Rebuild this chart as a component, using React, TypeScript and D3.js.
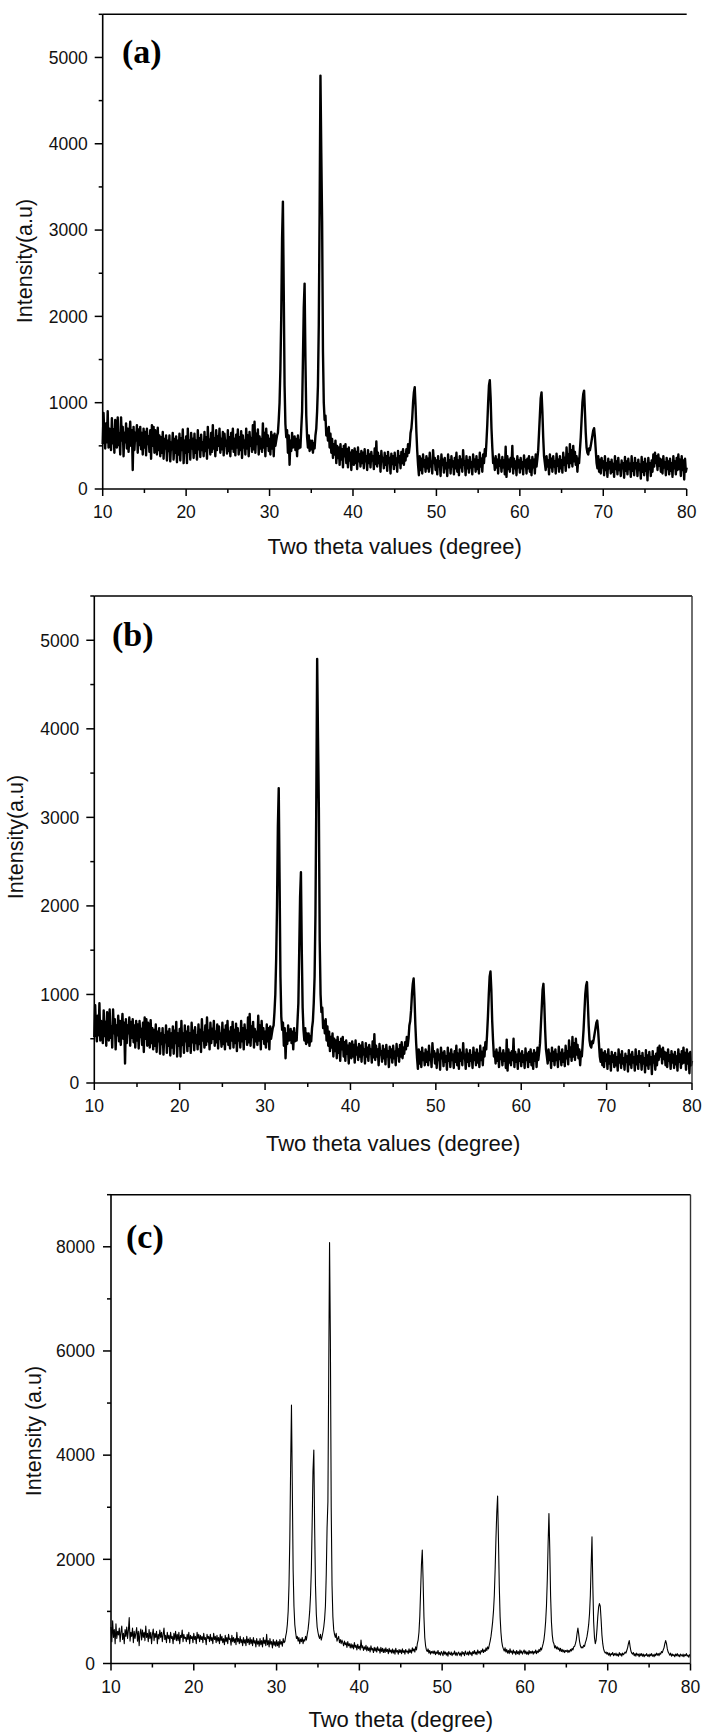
import React from "react";
import * as d3 from "d3";

// Measurement grid (degrees 2θ)
const THETA_START = 10;
const THETA_STEP = 0.1;

// Pattern shown in panels (a) and (b), one value per 0.1°, 10.0 … 80.0
const intensityAB: number[] = [
  520, 880, 610, 470, 760, 540, 900, 480, 700, 560,
  450, 820, 530, 690, 420, 800, 600, 480, 830, 510,
  640, 400, 830, 560, 720, 380, 650, 540, 760, 470,
  700, 430, 620, 780, 500, 680, 220, 720, 450, 650,
  560, 740, 420, 690, 510, 720, 460, 650, 400, 700,
  480, 660, 390, 700, 520, 610, 430, 680, 350, 740,
  500, 720, 420, 680, 560, 400, 710, 450, 620, 380,
  600, 420, 660, 350, 580, 470, 620, 330, 560, 440,
  620, 320, 540, 460, 650, 340, 580, 420, 610, 310,
  560, 400, 640, 330, 590, 450, 690, 300, 560, 420,
  610, 300, 700, 430, 560, 340, 650, 470, 580, 360,
  640, 420, 560, 340, 680, 460, 590, 370, 630, 450,
  540, 380, 660, 440, 600, 350, 720, 480, 570, 400,
  650, 430, 740, 470, 590, 380, 680, 450, 610, 500,
  700, 420, 580, 460, 660, 390, 640, 500, 560, 410,
  680, 440, 600, 380, 650, 470, 700, 430, 580, 390,
  630, 480, 690, 400, 600, 450, 670, 360, 620, 480,
  560, 400, 700, 470, 620, 380, 660, 500, 590, 430,
  740, 460, 780, 420, 640, 520, 690, 400, 610, 470,
  580, 430, 760, 480, 650, 380, 700, 500, 620, 440,
  580, 400, 660, 470, 620, 380, 640, 500, 560, 620,
  650, 800, 1000, 1400, 2000, 2900, 3330, 2300, 1200, 750,
  600, 680, 420, 620, 280, 560, 440, 650, 480, 560,
  610, 450, 580, 380, 620, 470, 560, 480, 700, 900,
  1500, 2100, 2380, 1500, 850, 600, 480, 620, 440, 560,
  460, 560, 420, 530, 470, 620, 700, 900, 1200, 1900,
  3200, 4790, 3900, 3100, 1600, 1000, 800, 850, 620, 700,
  560, 720, 480, 640, 420, 580, 360, 520, 400, 560,
  300, 500, 360, 480, 280, 520, 340, 460, 250, 500,
  380, 520, 300, 460, 250, 480, 330, 420, 220, 450,
  350, 280, 470, 300, 430, 230, 480, 320, 400, 260,
  440, 300, 420, 240, 460, 320, 380, 220, 450, 300,
  400, 250, 430, 330, 380, 230, 470, 290, 550, 260,
  420, 300, 380, 200, 440, 320, 360, 240, 420, 280,
  380, 210, 430, 300, 360, 180, 410, 290, 380, 230,
  420, 280, 350, 200, 440, 310, 380, 240, 430, 300,
  460, 280, 400, 330, 460, 380, 520, 420, 500, 650,
  700, 820, 1000, 1120, 1180, 960, 660, 440, 280, 160,
  380, 220, 350, 180, 400, 260, 330, 200, 380, 240,
  350, 200, 420, 260, 320, 180, 450, 300, 360, 220,
  330, 170, 380, 260, 320, 150, 400, 280, 340, 190,
  360, 240, 300, 150, 400, 250, 330, 180, 380, 260,
  320, 170, 360, 240, 420, 200, 330, 160, 380, 250,
  340, 200, 450, 280, 320, 160, 380, 240, 330, 190,
  370, 250, 310, 170, 400, 260, 340, 200, 380, 230,
  330, 180, 420, 260, 350, 200, 400, 300, 460, 380,
  550, 750, 1000, 1200, 1260, 1050, 700, 480, 300, 350,
  220, 380, 250, 340, 180, 400, 270, 330, 200, 370,
  250, 330, 170, 490, 140, 380, 230, 340, 200, 360,
  260, 500, 180, 350, 240, 320, 160, 380, 250, 330,
  190, 360, 240, 310, 170, 390, 260, 330, 180, 350,
  240, 380, 200, 330, 160, 370, 250, 340, 180, 400,
  260, 350, 450, 650, 850, 1050, 1120, 900, 600, 380,
  300, 220, 380, 260, 330, 170, 400, 250, 350, 200,
  380, 260, 320, 180, 410, 270, 340, 200, 380, 240,
  330, 190, 420, 280, 360, 210, 480, 300, 400, 250,
  520, 300, 450, 260, 500, 320, 430, 280, 380, 200,
  350, 300, 450, 600, 800, 1000, 1100, 1140, 900, 650,
  480, 420, 400, 470, 450, 500, 560, 620, 680, 705,
  600, 450, 300, 240, 380, 200, 340, 180, 360, 250,
  320, 160, 380, 220, 300, 140, 350, 240, 310, 180,
  340, 200, 290, 140, 380, 230, 320, 170, 360, 220,
  280, 150, 330, 240, 300, 130, 370, 210, 320, 170,
  350, 230, 290, 140, 380, 210, 300, 160, 360, 240,
  300, 150, 340, 220, 280, 120, 370, 200, 310, 160,
  350, 210, 290, 100, 360, 230, 300, 150, 330, 200,
  400, 260, 420, 300, 380, 220, 400, 270, 350, 200,
  340, 180, 380, 250, 310, 160, 360, 230, 320, 170,
  350, 210, 300, 140, 380, 240, 320, 170, 360, 220,
  400, 230, 340, 150, 380, 220, 330, 110, 350, 200,
  250,
];

// Pattern shown in panel (c), one value per 0.1°, 10.0 … 80.0
const intensityC: number[] = [
  700, 420, 820, 500, 650, 380, 760, 480, 620, 550,
  680, 420, 600, 720, 460, 580, 380, 650, 520, 700,
  480, 640, 880, 430, 600, 520, 680, 400, 620, 480,
  580, 690, 430, 620, 340, 580, 660, 450, 640, 500,
  600, 440, 720, 500, 580, 420, 650, 480, 600, 380,
  560, 660, 440, 580, 500, 620, 380, 560, 470, 640,
  500, 600, 420, 560, 680, 460, 540, 400, 600, 480,
  540, 400, 600, 480, 520, 380, 580, 460, 620, 440,
  560, 440, 600, 380, 540, 500, 640, 420, 560, 480,
  500, 420, 560, 460, 600, 380, 540, 480, 520, 400,
  580, 460, 520, 380, 600, 480, 560, 420, 540, 460,
  520, 400, 580, 460, 500, 360, 560, 480, 520, 420,
  560, 440, 500, 380, 580, 460, 520, 400, 540, 430,
  500, 380, 560, 440, 520, 400, 480, 360, 540, 420,
  500, 380, 560, 460, 480, 350, 540, 420, 500, 400,
  480, 360, 600, 420, 480, 380, 520, 400, 460, 340,
  500, 390, 460, 340, 520, 400, 470, 360, 500, 380,
  460, 340, 500, 390, 440, 320, 480, 370, 430, 330,
  480, 360, 440, 320, 500, 380, 450, 340, 560, 360,
  440, 320, 480, 370, 420, 300, 460, 350, 420, 330,
  450, 340, 420, 310, 460, 370, 420, 330, 480, 400,
  420, 520, 600, 750, 1000, 1500, 2400, 3800, 4960, 3400,
  1800, 1100, 750, 600, 480, 520, 430, 500, 380, 470,
  420, 500, 380, 460, 430, 520, 450, 560, 650, 800,
  1000, 1300, 1800, 2700, 3700, 4100, 2600, 1500, 950, 700,
  600, 520, 480, 560, 450, 520, 600, 700, 850, 1100,
  1700, 2600, 3100, 5600, 8080, 6200, 3000, 1500, 900, 650,
  560, 500, 580, 430, 480, 520, 400, 460, 380, 450,
  400, 340, 430, 360, 400, 310, 420, 340, 380, 300,
  380, 300, 360, 280, 400, 310, 350, 260, 370, 290,
  330, 260, 450, 300, 340, 250, 320, 270, 350, 240,
  320, 250, 300, 220, 340, 260, 290, 210, 310, 240,
  300, 220, 320, 250, 280, 200, 310, 230, 290, 210,
  280, 210, 300, 230, 270, 190, 290, 220, 260, 200,
  280, 200, 260, 180, 290, 220, 250, 180, 270, 210,
  260, 190, 280, 210, 250, 180, 270, 220, 240, 190,
  280, 210, 260, 200, 300, 240, 280, 220, 320, 260,
  380, 450, 600, 900, 1400, 1900, 2180, 1600, 900, 500,
  340, 260, 230, 280, 200, 250, 180, 230, 200, 240,
  190, 240, 170, 220, 190, 250, 170, 210, 160, 230,
  200, 150, 240, 180, 220, 160, 210, 140, 230, 190,
  170, 220, 150, 200, 180, 240, 160, 210, 150, 200,
  220, 160, 200, 140, 230, 180, 210, 150, 240, 190,
  170, 220, 160, 240, 180, 210, 150, 230, 190, 250,
  180, 220, 170, 260, 200, 230, 180, 250, 220, 280,
  210, 260, 230, 300, 250, 320, 280, 360, 430, 520,
  650, 800, 1000, 1300, 1800, 2400, 2900, 3215, 2400, 1500,
  900, 600, 420, 330, 280, 240, 300, 220, 270, 200,
  250, 190, 280, 210, 240, 180, 260, 200, 230, 170,
  250, 190, 230, 170, 260, 200, 240, 180, 220, 260,
  190, 240, 180, 220, 170, 250, 190, 230, 200, 240,
  180, 230, 200, 260, 190, 240, 210, 270, 230, 300,
  260, 320, 380, 460, 600, 800, 1100, 1600, 2300, 2880,
  2200, 1300, 800, 550, 420, 380, 300, 340, 280, 320,
  270, 300, 240, 290, 230, 270, 220, 260, 210, 250,
  230, 260, 210, 250, 220, 270, 240, 290, 260, 320,
  330, 380, 450, 580, 680, 560, 420, 340, 300, 320,
  300, 350, 330, 400, 450, 520, 620, 750, 950, 1300,
  1900, 2430, 1500, 800, 500, 380, 450, 650, 900, 1080,
  1150, 1100, 850, 550, 380, 280, 230, 200, 220, 180,
  210, 160, 200, 140, 190, 170, 210, 150, 190, 160,
  200, 150, 180, 140, 210, 160, 190, 140, 200, 170,
  190, 220, 200, 250, 300, 380, 440, 330, 240, 200,
  180, 210, 150, 190, 140, 200, 160, 180, 130, 190,
  150, 190, 140, 180, 130, 170, 150, 190, 140, 170,
  130, 180, 150, 190, 140, 170, 130, 180, 150, 200,
  160, 190, 150, 200, 180, 230, 210, 260, 300, 380,
  440, 380, 280, 220, 190, 160, 200, 140, 180, 150,
  170, 130, 180, 150, 190, 140, 170, 130, 180, 160,
  140, 180, 130, 170, 150, 190, 140, 160, 120, 170,
  150,
];

const xMajorTicks = [10, 20, 30, 40, 50, 60, 70, 80];
const xMinorTicks = [15, 25, 35, 45, 55, 65, 75];
const yMajorAB = [0, 1000, 2000, 3000, 4000, 5000];
const yMinorAB = [500, 1500, 2500, 3500, 4500, 5500];
const yMajorC = [0, 2000, 4000, 6000, 8000];
const yMinorC = [1000, 3000, 5000, 7000, 9000];

type PanelProps = {
  data: number[];
  left: number;
  right: number;
  top: number;
  bottom: number;
  yMax: number;
  yMajor: number[];
  yMinor: number[];
  lineWidth: number;
  tag: string;
  tagX: number;
  tagY: number;
  xTitle: string;
  xTitleY: number;
  yTitle: string;
  yTitleX: number;
  yTitleY: number;
  yLabelGap: number;
  box: boolean;
};

const SANS = "'Liberation Sans', Arial, sans-serif";
const SERIF = "'Liberation Serif', 'Times New Roman', serif";

function Panel(p: PanelProps) {
  const x = d3.scaleLinear().domain([10, 80]).range([p.left, p.right]);
  const y = d3.scaleLinear().domain([0, p.yMax]).range([p.bottom, p.top]);
  const line = d3
    .line<number>()
    .x((_, i) => x(THETA_START + i * THETA_STEP))
    .y((v) => y(v));
  const ink = "#000";
  return (
    <g>
      <path d={line(p.data) || ""} fill="none" stroke={ink} strokeWidth={p.lineWidth} strokeLinejoin="round" />
      {/* axes */}
      <line x1={p.left} x2={p.left} y1={p.top} y2={p.bottom} stroke={ink} strokeWidth={1.6} />
      <line x1={p.left} x2={p.right} y1={p.bottom} y2={p.bottom} stroke={ink} strokeWidth={1.6} />
      <line x1={p.left} x2={p.right} y1={p.top} y2={p.top} stroke={ink} strokeWidth={1.4} />
      {p.box && <line x1={p.right} x2={p.right} y1={p.top} y2={p.bottom} stroke="#333" strokeWidth={1.4} />}
      {xMajorTicks.map((t) => (
        <g key={"xm" + t}>
          <line x1={x(t)} x2={x(t)} y1={p.bottom} y2={p.bottom + 7} stroke={ink} strokeWidth={1.5} />
          <text x={x(t)} y={p.bottom + 29} textAnchor="middle" fontFamily={SANS} fontSize={17.5} fill="#111">
            {t}
          </text>
        </g>
      ))}
      {xMinorTicks.map((t) => (
        <line key={"xn" + t} x1={x(t)} x2={x(t)} y1={p.bottom} y2={p.bottom + 4} stroke={ink} strokeWidth={1.5} />
      ))}
      {p.yMajor.map((t) => (
        <g key={"ym" + t}>
          <line x1={p.left - 8} x2={p.left} y1={y(t)} y2={y(t)} stroke={ink} strokeWidth={1.5} />
          <text x={p.left - p.yLabelGap} y={y(t) + 6.3} textAnchor="end" fontFamily={SANS} fontSize={17.5} fill="#111">
            {t}
          </text>
        </g>
      ))}
      {p.yMinor.map((t) => (
        <line key={"yn" + t} x1={p.left - 4} x2={p.left} y1={y(t)} y2={y(t)} stroke={ink} strokeWidth={1.5} />
      ))}
      <text x={p.tagX} y={p.tagY} fontFamily={SERIF} fontWeight="bold" fontSize={34} fill={ink}>
        {p.tag}
      </text>
      <text x={(p.left + p.right) / 2} y={p.xTitleY} textAnchor="middle" fontFamily={SANS} fontSize={22} fill="#111">
        {p.xTitle}
      </text>
      <text
        transform={`translate(${p.yTitleX},${p.yTitleY}) rotate(-90)`}
        textAnchor="middle"
        fontFamily={SANS}
        fontSize={21.5}
        fill="#111"
      >
        {p.yTitle}
      </text>
    </g>
  );
}

export default function App() {
  return (
    <svg
      width={703}
      height={1734}
      viewBox="0 0 703 1734"
      style={{ position: "absolute", left: 0, top: 0, background: "#fff" }}
    >
      <rect x={0} y={0} width={703} height={1734} fill="#fff" />
      <Panel
        data={intensityAB}
        left={102.7}
        right={686.7}
        top={14.3}
        bottom={489}
        yMax={5500}
        yMajor={yMajorAB}
        yMinor={yMinorAB}
        lineWidth={2.4}
        tag="(a)"
        tagX={122}
        tagY={63}
        xTitle="Two theta values (degree)"
        xTitleY={554}
        yTitle="Intensity(a.u)"
        yTitleX={32}
        yTitleY={261}
        yLabelGap={15}
        box={false}
      />
      <Panel
        data={intensityAB}
        left={94.3}
        right={692}
        top={596}
        bottom={1083}
        yMax={5500}
        yMajor={yMajorAB}
        yMinor={yMinorAB}
        lineWidth={2.4}
        tag="(b)"
        tagX={112}
        tagY={646}
        xTitle="Two theta values (degree)"
        xTitleY={1151}
        yTitle="Intensity(a.u)"
        yTitleX={23}
        yTitleY={837}
        yLabelGap={15}
        box={true}
      />
      <Panel
        data={intensityC}
        left={111}
        right={690.5}
        top={1194.7}
        bottom={1663.5}
        yMax={9000}
        yMajor={yMajorC}
        yMinor={yMinorC}
        lineWidth={1.1}
        tag="(c)"
        tagX={126}
        tagY={1248}
        xTitle="Two theta (degree)"
        xTitleY={1727}
        yTitle="Intensity (a.u)"
        yTitleX={41}
        yTitleY={1431}
        yLabelGap={16}
        box={true}
      />
    </svg>
  );
}
